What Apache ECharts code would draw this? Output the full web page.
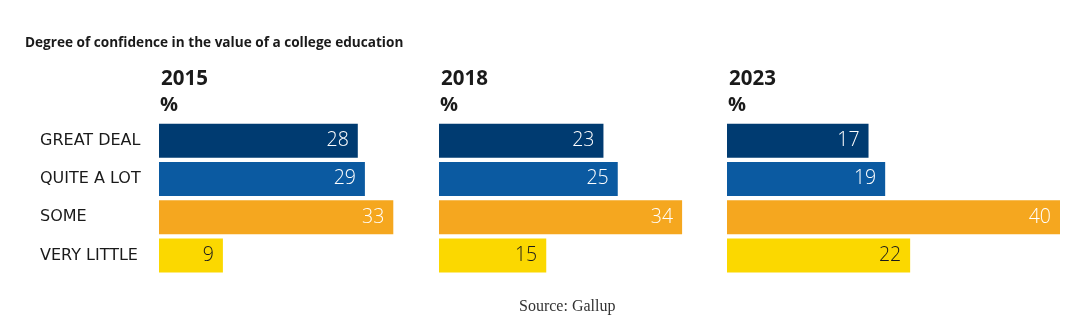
<!DOCTYPE html>
<html><head><meta charset="utf-8">
<script src="https://cdn.jsdelivr.net/npm/echarts@6/dist/echarts.min.js"></script>
<style>html,body{margin:0;padding:0;background:#fff}#c{width:1080px;height:329px}</style>
</head><body><div id="c"></div>
<script>
var categories = ['GREAT DEAL', 'QUITE A LOT', 'SOME', 'VERY LITTLE'];
var years = ['2015', '2018', '2023'];
var values2015 = [28, 29, 33, 9];
var values2018 = [23, 25, 34, 15];
var values2023 = [17, 19, 40, 22];
var axisMax = [40, 40, 40];

var barColors = ['#003b71', '#0b5aa1', '#f5a71f', '#fbd800'];
var labelColors = ['#ffffff', '#ffffff', '#ffffff', '#1a1a1a'];
var panelLeft = [159, 439, 727];
var panelWidth = [284, 286, 333];
var allValues = [values2015, values2018, values2023];

var chart = echarts.init(document.getElementById('c'), null, {renderer: 'canvas'});
var grids = [], xAxes = [], yAxes = [], series = [], titles = [];

titles.push({text: 'Degree of confidence in the value of a college education', left: 25, top: 36, padding: 0,
  textStyle: {fontFamily: 'Open Sans', fontWeight: 'bold', fontSize: 13.6, color: '#1a1a1a'}});
titles.push({text: 'Source: Gallup', left: 519, top: 299, padding: 0,
  textStyle: {fontFamily: 'Liberation Serif', fontWeight: 'normal', fontSize: 16, color: '#333'}});

for (var i = 0; i < 3; i++) {
  grids.push({left: panelLeft[i], width: panelWidth[i], top: 121.5, height: 153, containLabel: false});
  xAxes.push({type: 'value', gridIndex: i, min: 0, max: axisMax[i], show: false});
  yAxes.push({type: 'category', gridIndex: i, data: categories, inverse: true,
    axisLine: {show: false}, axisTick: {show: false}, splitLine: {show: false},
    axisLabel: {show: i === 0, align: 'left', margin: panelLeft[0] - 40,
      fontFamily: 'DejaVu Sans', fontSize: 16, color: '#1a1a1a'}});
  var vals = allValues[i];
  series.push({type: 'bar', xAxisIndex: i, yAxisIndex: i, barWidth: 34,
    data: vals.map(function (v, k) {
      return {value: v, itemStyle: {color: barColors[k]},
        label: {color: labelColors[k]}};
    }),
    label: {show: true, position: 'insideRight', distance: 9,
      fontFamily: 'Open Sans', fontWeight: 300, fontSize: 19.5},
    silent: true, animation: false});
  titles.push({text: years[i], left: panelLeft[i] + 2, top: 69, padding: 0,
    textStyle: {fontFamily: 'Open Sans', fontWeight: 'bold', fontSize: 20.5, color: '#1a1a1a'}});
  titles.push({text: '%', left: panelLeft[i] + 1, top: 95, padding: 0,
    textStyle: {fontFamily: 'Open Sans', fontWeight: 'bold', fontSize: 20, color: '#1a1a1a'}});
}

chart.setOption({animation: false, title: titles, grid: grids, xAxis: xAxes, yAxis: yAxes, series: series});
</script></body></html>
